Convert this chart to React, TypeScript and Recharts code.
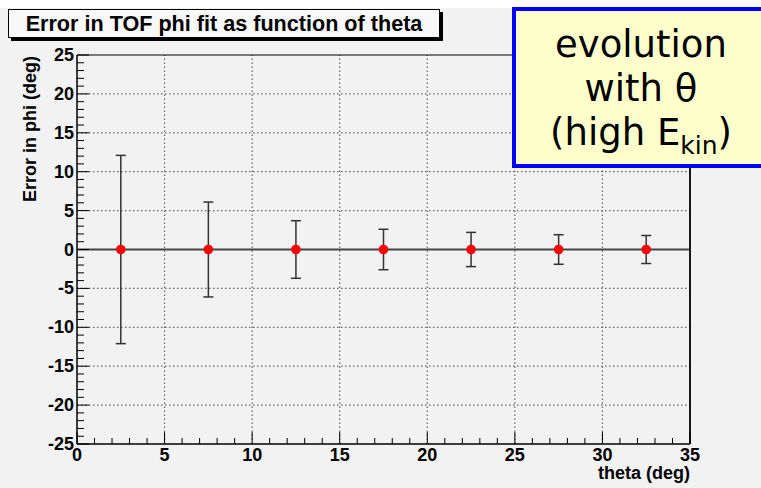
import React from "react";
import {
  ComposedChart,
  Scatter,
  XAxis,
  YAxis,
  ErrorBar,
  ReferenceLine,
} from "recharts";

const thetaValues = [2.5, 7.5, 12.5, 17.5, 22.5, 27.5, 32.5];
const phiErrorMean = [0, 0, 0, 0, 0, 0, 0];
const phiErrorSigma = [12.1, 6.1, 3.7, 2.6, 2.2, 1.9, 1.8];

const xMajorTicks = [0, 5, 10, 15, 20, 25, 30, 35];
const yMajorTicks = [-25, -20, -15, -10, -5, 0, 5, 10, 15, 20, 25];
const xMinorTicks = Array.from({ length: 36 }, (_, i) => i);
const yMinorTicks = Array.from({ length: 51 }, (_, i) => i - 25);

const data = thetaValues.map((t, i) => ({
  theta: t,
  phi: phiErrorMean[i],
  err: phiErrorSigma[i],
}));

const FONT = "'Liberation Sans', Arial, Helvetica, sans-serif";

const XTick = (props: any) => {
  const { x, y, payload } = props;
  const v = payload.value;
  const major = v % 5 === 0;
  return (
    <g>
      <line x1={x} y1={y} x2={x} y2={y - (major ? 12 : 6)} stroke="#000" strokeWidth={1} />
      {major && (
        <text x={x} y={y + 17} textAnchor="middle" fontFamily={FONT} fontWeight="bold" fontSize={18} fill="#000">
          {v}
        </text>
      )}
    </g>
  );
};

const YTick = (props: any) => {
  const { x, y, payload } = props;
  const v = payload.value;
  const major = v % 5 === 0;
  return (
    <g>
      <line x1={x} y1={y} x2={x + (major ? 12 : 7)} y2={y} stroke="#000" strokeWidth={1} />
      {major && (
        <text x={x - 3} y={y + 6} textAnchor="end" fontFamily={FONT} fontWeight="bold" fontSize={18} fill="#000">
          {v}
        </text>
      )}
    </g>
  );
};

const Dot = (props: any) => {
  const { cx, cy } = props;
  return <circle cx={cx} cy={cy} r={4.8} fill="#ff0000" />;
};

export default function App() {
  return (
    <div
      style={{
        position: "absolute",
        left: 0,
        top: 0,
        width: 761,
        height: 488,
        overflow: "hidden",
        background: "#f2f2f2",
      }}
    >
      <ComposedChart
        width={761}
        height={488}
        data={data}
        margin={{ top: 55, right: 71, bottom: 0, left: 17 }}
      >
        {xMajorTicks.slice(1, -1).map((v) => (
          <ReferenceLine key={"vx" + v} x={v} stroke="#666" strokeDasharray="1.5 2.5" strokeWidth={1.2} />
        ))}
        {yMajorTicks.slice(1, -1).map((v) => (
          <ReferenceLine key={"hy" + v} y={v} stroke="#666" strokeDasharray="1.5 2.5" strokeWidth={1.2} />
        ))}
        <ReferenceLine y={0} stroke="#444" strokeWidth={1.8} />
        <ReferenceLine y={25} stroke="#000" strokeWidth={1.2} />
        <ReferenceLine x={35} stroke="#000" strokeWidth={1.8} />
        <XAxis
          type="number"
          dataKey="theta"
          domain={[0, 35]}
          ticks={xMinorTicks}
          interval={0}
          height={44}
          tickSize={0}
          tickMargin={0}
          tick={<XTick />}
          axisLine={{ stroke: "#000", strokeWidth: 1.5 }}
          tickLine={false}
          allowDataOverflow
        />
        <YAxis
          type="number"
          domain={[-25, 25]}
          ticks={yMinorTicks}
          interval={0}
          width={60}
          tickSize={0}
          tickMargin={0}
          tick={<YTick />}
          axisLine={{ stroke: "#000", strokeWidth: 1.5 }}
          tickLine={false}
          allowDataOverflow
        />
        <Scatter dataKey="phi" shape={<Dot />} isAnimationActive={false}>
          <ErrorBar dataKey="err" direction="y" width={5} stroke="#333" strokeWidth={1.5} />
        </Scatter>
      </ComposedChart>

      <div
        style={{
          position: "absolute",
          left: 0,
          top: 0,
          width: 761,
          height: 8,
          background: "#ffffff",
        }}
      />

      <div
        style={{
          position: "absolute",
          left: 20,
          top: 56,
          transformOrigin: "0 0",
          transform: "rotate(-90deg) translate(-100%, 0)",
          fontFamily: FONT,
          fontWeight: "bold",
          fontSize: 18,
          whiteSpace: "nowrap",
          color: "#000",
          lineHeight: "20px",
        }}
      >
        Error in phi (deg)
      </div>

      <div
        style={{
          position: "absolute",
          right: 71,
          top: 463,
          fontFamily: FONT,
          fontWeight: "bold",
          fontSize: 18,
          whiteSpace: "nowrap",
          color: "#000",
          lineHeight: "20px",
        }}
      >
        theta (deg)
      </div>

      <div
        style={{
          position: "absolute",
          left: 8,
          top: 9,
          width: 430,
          height: 27,
          background: "#f8f8f8",
          border: "1px solid #000",
          boxShadow: "3px 3px 0 #000",
          fontFamily: FONT,
          fontWeight: "bold",
          fontSize: 21.6,
          lineHeight: "27px",
          textAlign: "center",
          color: "#000",
          whiteSpace: "nowrap",
        }}
      >
        Error in TOF phi fit as function of theta
      </div>

      <div
        style={{
          position: "absolute",
          left: 512,
          top: 7,
          width: 260,
          height: 153,
          background: "#ffffcc",
          border: "4px solid #0000ff",
          fontFamily: "'DejaVu Sans', sans-serif",
          fontSize: 37,
          color: "#000",
          textAlign: "center",
          boxSizing: "content-box",
        }}
      >
        <div style={{ position: "absolute", left: 0, width: 250, top: 12, lineHeight: "44px" }}>
          evolution
          <br />
          with θ
          <br />
          (high E<sub style={{ fontSize: 25, verticalAlign: "-9px", lineHeight: 0 }}>kin</sub>)
        </div>
      </div>
    </div>
  );
}
